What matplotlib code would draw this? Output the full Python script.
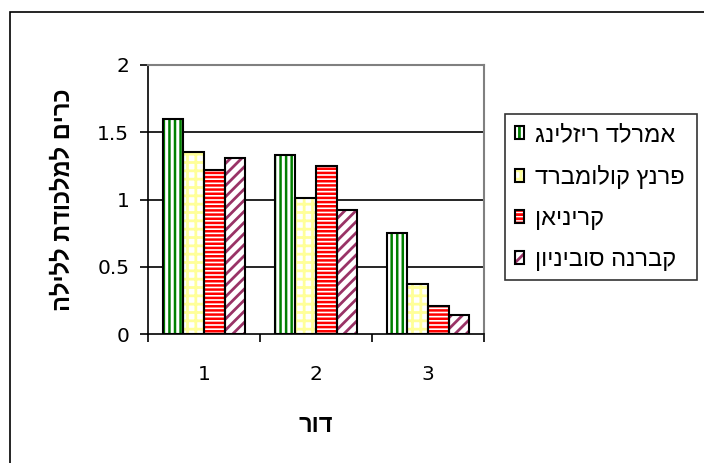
import matplotlib
matplotlib.use("Agg")
import matplotlib.pyplot as plt
from matplotlib.patches import Rectangle
import numpy as np

plt.rcParams['font.family'] = ['Liberation Sans', 'DejaVu Sans']

categories = ["1", "2", "3"]
series_names = ["אמרלד ריזלינג", "פרנץ קולומברד", "קריניאן", "קברנה סוביניון"]
values = {
    "אמרלד ריזלינג": [1.60, 1.33, 0.75],
    "פרנץ קולומברד": [1.35, 1.01, 0.37],
    "קריניאן": [1.22, 1.25, 0.21],
    "קברנה סוביניון": [1.31, 0.92, 0.14],
}
y_ticks = [0, 0.5, 1, 1.5, 2]
y_tick_labels = ["0", "0.5", "1", "1.5", "2"]
y_label = "כרים למלכודת ללילה"
x_label = "דור"

styles = [
    dict(hatch='|||', hc='#008000', hlw=1.8),
    dict(hatch='++', hc='#FFFF99', hlw=2.0),
    dict(hatch='----', hc='#FF0000', hlw=1.8),
    dict(hatch='///', hc='#993366', hlw=2.0),
]

def rtl(s):
    return s[::-1]

W, H = 704, 463
fig = plt.figure(figsize=(W / 100, H / 100), dpi=100)
ax = fig.add_axes([148 / W, 1 - 334 / H, (484 - 148) / W, (334 - 65) / H])

x = np.arange(1, len(categories) + 1)
bw = 0.185
n = len(series_names)
handles = []
for i, name in enumerate(series_names):
    st = styles[i]
    pos = x + (i - (n - 1) / 2) * bw
    plt.rcParams['hatch.linewidth'] = st['hlw']
    bars = ax.bar(pos, values[name], width=bw, color='white', edgecolor=st['hc'],
                  hatch=st['hatch'], linewidth=0, zorder=3)
    for b in bars:
        if hasattr(b, 'set_hatch_linewidth'):
            b.set_hatch_linewidth(st['hlw'])
    ax.bar(pos, values[name], width=bw, fill=False, edgecolor='black', linewidth=1.5, zorder=4)
    hp = Rectangle((0, 0), 1, 1, facecolor='white', edgecolor=st['hc'], hatch=st['hatch'], linewidth=0)
    if hasattr(hp, 'set_hatch_linewidth'):
        hp.set_hatch_linewidth(st['hlw'])
    handles.append((hp, Rectangle((0, 0), 1, 1, fill=False, edgecolor='black', linewidth=1.5)))

tick_font = dict(family=['DejaVu Sans'], size=14.5)
ax.set_xlim(0.5, len(categories) + 0.5)
ax.set_ylim(0, 2)
ax.set_yticks(y_ticks)
ax.set_yticklabels(y_tick_labels, fontdict=tick_font)
ax.set_xticks(x)
ax.set_xticklabels(categories, fontdict=tick_font)
ax.set_xticks(np.arange(0.5, len(categories) + 1, 1), minor=True)
ax.tick_params(axis='x', which='major', length=0, pad=22)
ax.tick_params(axis='x', which='minor', length=6, width=1.2, direction='out')
ax.tick_params(axis='y', length=6, width=1.2, direction='out', pad=7.5)

for yv in [0.5, 1, 1.5]:
    ax.axhline(yv, color='black', linewidth=1.2, zorder=1)
ax.spines['top'].set_color('#808080')
ax.spines['right'].set_color('#808080')
ax.spines['top'].set_linewidth(1.5)
ax.spines['right'].set_linewidth(1.5)
ax.spines['left'].set_linewidth(1.2)
ax.spines['bottom'].set_linewidth(1.2)

ax.set_ylabel(rtl(y_label), fontsize=17, fontweight='bold', labelpad=16)
ax.set_xlabel(rtl(x_label), fontsize=17, fontweight='bold', labelpad=22)

leg = fig.legend(handles, [rtl(s) for s in series_names],
                 loc='upper left', bbox_to_anchor=(505 / W, 1 - 114 / H, (697 - 505) / W, 0),
                 mode='expand', frameon=True, fancybox=False, fontsize=17,
                 handlelength=0.4, handleheight=0.45, handletextpad=0.45,
                 labelspacing=0.8, borderpad=0.42, borderaxespad=0)
leg.get_frame().set_edgecolor('black')
leg.get_frame().set_linewidth(1.2)

fig.add_artist(Rectangle((10 / W, -0.1), 1.2, 1 - 12 / H + 0.1, transform=fig.transFigure,
                         fill=False, edgecolor='black', linewidth=1.2))

fig.savefig('out.png', dpi=100)
